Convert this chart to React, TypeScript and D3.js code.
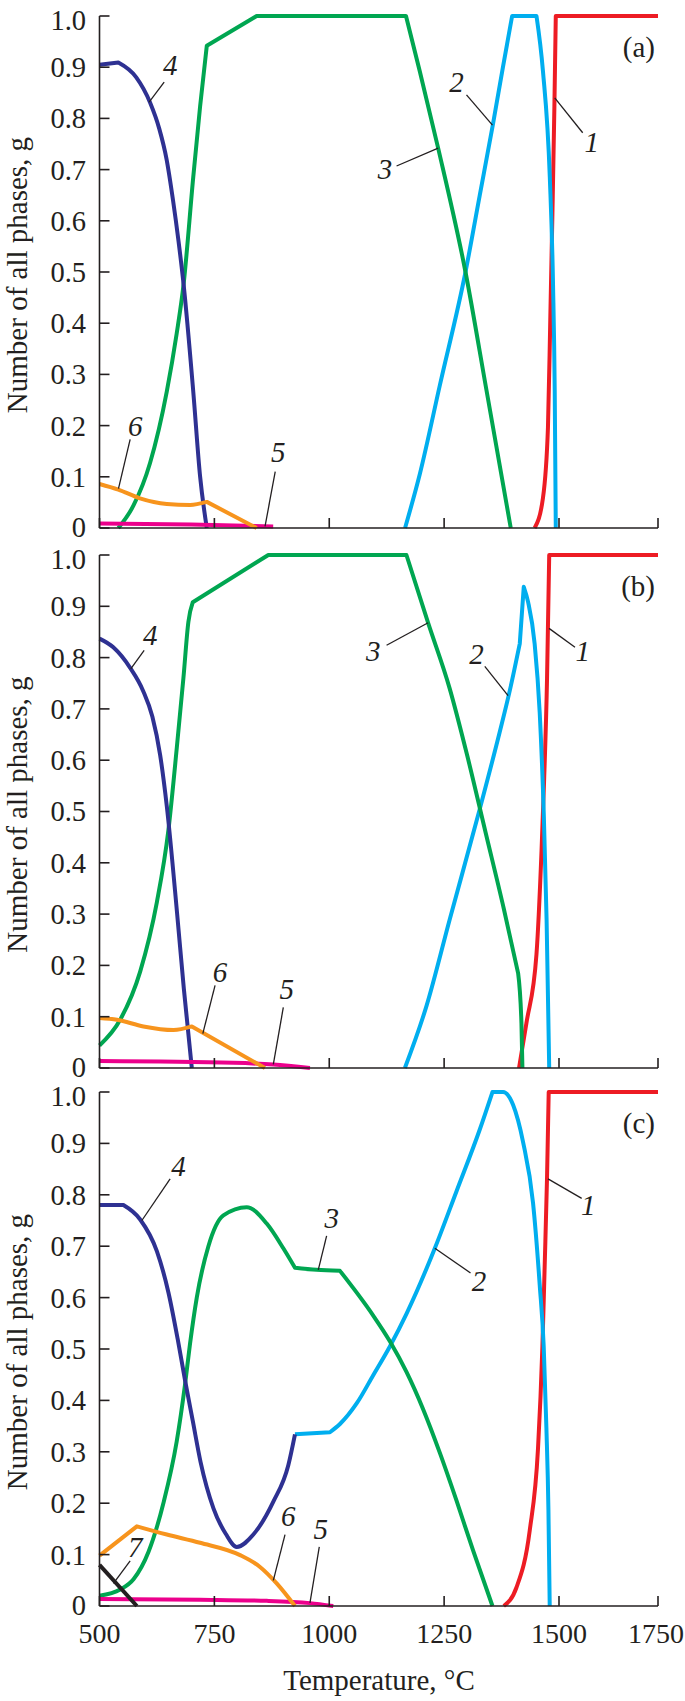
import React from "react";
import * as d3 from "d3";

// ---------- data: [temperature, °C ; fraction g] ----------
// every series is a list of pieces; pieces meet at the sharp corners of the curve

// panel (a)
const a1 = [
  [[1447, 0], [1465, 0.058], [1476, 0.197], [1481, 0.406], [1485.7, 0.615], [1490, 0.824], [1493, 1]],
  [[1493, 1], [1750, 1]],
];
const a2 = [
  [[1165, 0], [1197, 0.105], [1241, 0.28], [1296.5, 0.5], [1327.6, 0.65], [1356.5, 0.79], [1378, 0.9], [1398, 1]],
  [[1398, 1], [1451, 1]],
  [[1451, 1], [1465, 0.893], [1480, 0.685], [1487, 0.476], [1490.7, 0.267], [1493, 0]],
];
const a3 = [
  [[541, 0], [574, 0.044], [610, 0.127], [646.5, 0.267], [668, 0.38], [683, 0.476], [704, 0.685], [719, 0.824], [733.5, 0.942]],
  [[733.5, 0.942], [842, 1]],
  [[842, 1], [1167, 1]],
  [[1167, 1], [1197, 0.892], [1237, 0.742], [1296.5, 0.5], [1342, 0.27], [1395, 0]],
];
const a4 = [
  [[500, 0.905], [541, 0.909]],
  [[541, 0.909], [580, 0.88], [610, 0.831], [630, 0.78], [646, 0.72], [660, 0.64], [672, 0.56], [683, 0.476], [704, 0.267], [719, 0.1], [733.5, 0]],
];
const a5 = [[[500, 0.009], [700, 0.007], [878, 0.003]]];
const a6 = [
  [[500, 0.086], [541, 0.075], [588, 0.058], [646.5, 0.047], [697, 0.045], [733.5, 0.051]],
  [[733.5, 0.051], [842, 0]],
];

// panel (b)
const b1 = [
  [[1413, 0], [1429, 0.087], [1451, 0.222], [1462, 0.424], [1467.5, 0.558], [1474, 0.76], [1478.7, 1]],
  [[1478.7, 1], [1750, 1]],
];
const b2 = [
  [[1164.6, 0], [1211.7, 0.121], [1262, 0.289], [1327.6, 0.505], [1371, 0.655], [1393, 0.736], [1414.6, 0.827]],
  [[1414.6, 0.827], [1423.3, 0.938]],
  [[1423.3, 0.938], [1432.8, 0.908], [1447, 0.827], [1458, 0.693], [1467, 0.491], [1473, 0.289], [1478.7, 0]],
];
const b3 = [
  [[500, 0.044], [545, 0.094], [588.5, 0.188], [624.8, 0.323], [650, 0.464], [668.3, 0.625], [682.6, 0.76], [693.5, 0.87], [703, 0.908]],
  [[703, 0.908], [867.4, 1]],
  [[867.4, 1], [1168, 1]],
  [[1168, 1], [1215, 0.868], [1262, 0.74], [1300, 0.61], [1340, 0.46], [1380, 0.31], [1411, 0.185]],
  [[1411, 0.185], [1418.3, 0.087], [1420.4, 0]],
];
const b4 = [[[500, 0.837], [530, 0.82], [566.7, 0.78], [595, 0.735], [615, 0.685], [632, 0.61], [646.5, 0.51], [669, 0.3], [683.5, 0.155], [700.9, 0]]];
const b5 = [[[500, 0.0135], [791, 0.01], [878, 0.0067], [958, 0]]];
const b6 = [
  [[500, 0.0975], [538, 0.094], [595.6, 0.081], [661, 0.074], [701, 0.081]],
  [[701, 0.081], [860, 0]],
];

// panel (c)
const c1 = [
  [[1379.8, 0], [1407.4, 0.036], [1436.3, 0.147], [1454.3, 0.306], [1463.9, 0.505], [1468.9, 0.664], [1473.9, 0.831], [1477.6, 1]],
  [[1477.6, 1], [1750, 1]],
];
const c2 = [
  [[925.4, 0.334], [1001.5, 0.338]],
  [[1001.5, 0.338], [1023.3, 0.354], [1059.6, 0.394], [1095.7, 0.449], [1131.9, 0.505], [1168.3, 0.569], [1229.8, 0.696], [1277, 0.807], [1327.6, 0.927], [1355.2, 1]],
  [[1355.2, 1], [1378.3, 1], [1400, 0.975], [1421.7, 0.903], [1443.5, 0.784], [1458, 0.625], [1466.7, 0.505], [1472.6, 0.346], [1477, 0.187], [1479.8, 0]],
];
const c3 = [
  [[500, 0.02], [545, 0.032], [574, 0.052], [606.5, 0.105], [639, 0.2], [668, 0.32], [686, 0.43], [697, 0.51], [711.7, 0.6], [737, 0.7], [769.6, 0.76], [820.4, 0.776], [863.9, 0.744], [900, 0.696], [925.4, 0.658]],
  [[925.4, 0.658], [972.6, 0.654], [1023.3, 0.652]],
  [[1023.3, 0.652], [1095.7, 0.565], [1131.9, 0.515], [1168.3, 0.455], [1204.3, 0.383], [1240.7, 0.298], [1277, 0.205], [1313, 0.108], [1355.2, 0]],
];
const c4 = [
  [[500, 0.78], [552, 0.78]],
  [[552, 0.78], [588.5, 0.752], [625, 0.69], [650, 0.61], [670, 0.52], [686, 0.44], [703, 0.36], [720, 0.28], [748, 0.19], [775, 0.14], [798.7, 0.115], [834.8, 0.139], [878.3, 0.203], [910.9, 0.274], [925.4, 0.334]],
];
const c5 = [[[500, 0.0135], [718.9, 0.012], [863.9, 0.01], [958, 0.0056], [1008.7, 0]]];
const c6 = [
  [[500, 0.098], [581.3, 0.155]],
  [[581.3, 0.155], [646.5, 0.139], [718.9, 0.123], [805.9, 0.099], [849.3, 0.076], [885.6, 0.044], [925.4, 0]],
];
const c7 = [[[500, 0.08], [581.3, 0]]];

// curve labels: text point, leader start, leader end (data units)
const aLabels = [
  { id: "4", t: [653.7, 0.904], p: [640.7, 0.871], q: [608, 0.832] },
  { id: "6", t: [577.6, 0.2], p: [566.7, 0.173], q: [541.3, 0.077] },
  { id: "5", t: [889.1, 0.148], p: [882.4, 0.11], q: [860.2, 0.003] },
  { id: "2", t: [1277, 0.872], p: [1298.7, 0.846], q: [1355.2, 0.787] },
  { id: "3", t: [1121.1, 0.702], p: [1146.5, 0.707], q: [1237, 0.742] },
  { id: "1", t: [1582.6, 0.754], p: [1559.8, 0.772], q: [1490.7, 0.84] },
];
const bLabels = [
  { id: "4", t: [610.2, 0.844], p: [597.2, 0.814], q: [568, 0.778] },
  { id: "6", t: [762.4, 0.188], p: [751.5, 0.161], q: [724.8, 0.067] },
  { id: "5", t: [907.4, 0.155], p: [900, 0.118], q: [878.3, 0.007] },
  { id: "3", t: [1095.7, 0.814], p: [1124.8, 0.824], q: [1215.2, 0.868] },
  { id: "2", t: [1320.4, 0.807], p: [1338.5, 0.783], q: [1389.1, 0.726] },
  { id: "1", t: [1559.8, 0.814], p: [1540.4, 0.82], q: [1478.3, 0.857] },
];
const cLabels = [
  { id: "4", t: [671.7, 0.857], p: [653.7, 0.831], q: [592.2, 0.75] },
  { id: "3", t: [1005.2, 0.756], p: [994.3, 0.72], q: [976.1, 0.654] },
  { id: "7", t: [577.6, 0.115], p: [566.7, 0.088], q: [530.4, 0.044] },
  { id: "6", t: [910.9, 0.175], p: [903.7, 0.139], q: [878.3, 0.05] },
  { id: "5", t: [981.3, 0.151], p: [978.3, 0.115], q: [958, 0.006] },
  { id: "2", t: [1326.1, 0.632], p: [1307.4, 0.648], q: [1229.8, 0.696] },
  { id: "1", t: [1574, 0.78], p: [1557.3, 0.793], q: [1476.1, 0.831] },
];

const xTicks = [500, 750, 1000, 1250, 1500, 1750];
const yTicks = [0, 0.1, 0.2, 0.3, 0.4, 0.5, 0.6, 0.7, 0.8, 0.9, 1.0];
const yTickLabels = ["0", "0.1", "0.2", "0.3", "0.4", "0.5", "0.6", "0.7", "0.8", "0.9", "1.0"];
const panelNames = ["(a)", "(b)", "(c)"];
const yTitle = "Number of all phases, g";
const xTitle = "Temperature, °C";

const colors = {
  "1": "#ed1c24",
  "2": "#00aeef",
  "3": "#00a651",
  "4": "#2e3192",
  "5": "#ec008c",
  "6": "#f7941d",
  "7": "#231f20",
};

const panels = [
  { name: panelNames[0], y0: 528, y1: 16, series: { "5": a5, "6": a6, "4": a4, "3": a3, "2": a2, "1": a1 }, labels: aLabels, xLabels: false },
  { name: panelNames[1], y0: 1068, y1: 555, series: { "5": b5, "6": b6, "4": b4, "3": b3, "2": b2, "1": b1 }, labels: bLabels, xLabels: false },
  { name: panelNames[2], y0: 1606, y1: 1092, series: { "5": c5, "6": c6, "7": c7, "4": c4, "3": c3, "2": c2, "1": c1 }, labels: cLabels, xLabels: true },
];

const W = 685;
const FONT = "'Liberation Serif', 'Times New Roman', serif";
const INK = "#231f20";

// the original axis is squeezed after 1500, so it is piecewise
const x = d3.scaleLinear().domain([500, 1500, 1750]).range([99.5, 559, 658]);

function Panel({ p }) {
  const y = d3.scaleLinear().domain([0, 1]).range([p.y0, p.y1]);
  const line = d3.line().x(d => x(d[0])).y(d => y(d[1])).curve(d3.curveMonotoneX);
  // smooth inside each piece, sharp corners between pieces, one continuous path
  const pathOf = pieces => pieces.map((seg, i) => {
    const d = line(seg);
    return i === 0 ? d : "L" + d.slice(1);
  }).join("");
  const x0 = x(500);
  const xEnd = x(1750);
  const mid = (p.y0 + p.y1) / 2 + 3;

  return (
    <g>
      {/* curves */}
      {Object.entries(p.series).map(([k, pieces]) => (
        <path key={k} d={pathOf(pieces)} fill="none" stroke={colors[k]} strokeWidth={4}
          strokeLinejoin="round" strokeLinecap="butt" />
      ))}

      {/* axes */}
      <line x1={x0} x2={x0} y1={y(1)} y2={p.y0} stroke={INK} strokeWidth={1.6} />
      <line x1={x0} x2={xEnd} y1={p.y0} y2={p.y0} stroke={INK} strokeWidth={1.6} />
      {yTicks.map((t, i) => (
        <g key={"y" + i}>
          <line x1={x0} x2={x0 + 10} y1={y(t)} y2={y(t)} stroke={INK} strokeWidth={1.6} />
          <text x={86} y={y(t) + (t === 1 ? 4 : t === 0 ? -1 : 0)} dy="0.35em" textAnchor="end" fontFamily={FONT}
            fontSize={28.5} fill={INK}>
            {yTickLabels[i]}
          </text>
        </g>
      ))}
      {xTicks.map(t => {
        const last = x(t) + 29 > W;
        return (
          <g key={"x" + t}>
            <line x1={x(t)} x2={x(t)} y1={p.y0} y2={p.y0 - 10} stroke={INK} strokeWidth={1.6} />
            {p.xLabels && (
              <text x={last ? W - 1 : x(t)} y={p.y0 + 37} textAnchor={last ? "end" : "middle"}
                fontFamily={FONT} fontSize={28} fill={INK}>
                {t}
              </text>
            )}
          </g>
        );
      })}

      {/* y title */}
      <text transform={`translate(27,${mid}) rotate(-90)`} textAnchor="middle" fontFamily={FONT}
        fontSize={29} fill={INK}>
        {yTitle}
      </text>

      {/* panel name */}
      <text x={655} y={p.y1 + 41} textAnchor="end" fontFamily={FONT} fontSize={29} fill={INK}>
        {p.name}
      </text>

      {/* curve labels with leaders */}
      {p.labels.map((l, i) => (
        <g key={"l" + i}>
          <line x1={x(l.p[0])} y1={y(l.p[1])} x2={x(l.q[0])} y2={y(l.q[1])} stroke={INK} strokeWidth={1.3} />
          <text x={x(l.t[0])} y={y(l.t[1])} dy="0.35em" textAnchor="middle" fontFamily={FONT}
            fontStyle="italic" fontSize={29} fill={INK}>
            {l.id}
          </text>
        </g>
      ))}
    </g>
  );
}

export default function App() {
  return (
    <svg width={W} height={1701} style={{ position: "absolute", left: 0, top: 0, background: "#fff" }}>
      <rect width={W} height={1701} fill="#fff" />
      {panels.map(p => <Panel key={p.name} p={p} />)}
      <text x={379} y={1690} textAnchor="middle" fontFamily={FONT} fontSize={29} fill={INK}>
        {xTitle}
      </text>
    </svg>
  );
}
